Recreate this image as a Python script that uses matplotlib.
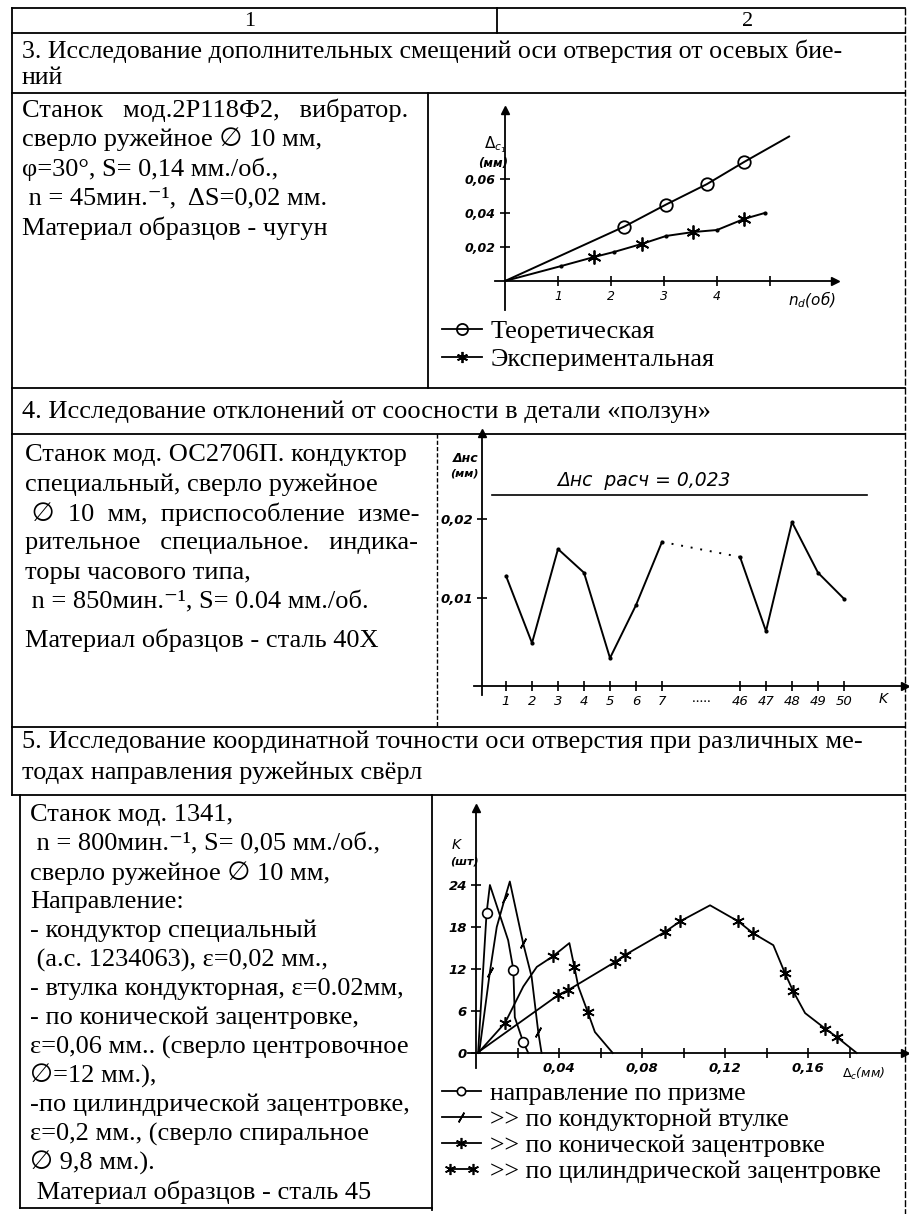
import matplotlib
matplotlib.use('Agg')
import matplotlib.pyplot as plt
from matplotlib.lines import Line2D
from matplotlib.legend_handler import HandlerLine2D

plt.rcParams['font.family'] = ['Liberation Serif', 'DejaVu Sans']
plt.rcParams['mathtext.fontset'] = 'dejavusans'

W, H = 909, 1214
HAND = ['DejaVu Sans']

# ---- chart 3: additional axis shift vs number of revolutions
n_theor = [0, 2.25, 3.04, 3.81, 4.51, 5.36]
dc_theor = [0, 0.032, 0.045, 0.057, 0.070, 0.085]
n_exp = [0, 1.06, 1.68, 2.06, 2.58, 3.04, 3.55, 4.0, 4.51, 4.9]
dc_exp = [0, 0.0088, 0.0141, 0.0171, 0.0218, 0.0265, 0.0288, 0.030, 0.0365, 0.040]

# ---- chart 4: misalignment for parts K
part_labels = ['1', '2', '3', '4', '5', '6', '7', '46', '47', '48', '49', '50']
dnc = [0.0128, 0.0043, 0.0162, 0.0132, 0.0024, 0.0091, 0.0171,
       0.0152, 0.0058, 0.0196, 0.0132, 0.0099]
dnc_calc = 0.023

# ---- chart 5: distribution of coordinate error
prism_x = [0.001, 0.0051, 0.0067, 0.0155, 0.018, 0.0187, 0.0227, 0.0252]
prism_k = [0, 20.0, 24.0, 16.1, 11.9, 5.1, 1.6, 0]
bush_x = [0.0015, 0.0067, 0.010, 0.0139, 0.0163, 0.0227, 0.0268, 0.030, 0.0316]
bush_k = [0, 11.6, 18.0, 22.1, 24.5, 15.7, 10.9, 3.0, 0]
cone_x = [0.001, 0.014, 0.0228, 0.0293, 0.037, 0.045, 0.0474, 0.0493, 0.0538, 0.0573, 0.0659]
cone_k = [0, 4.3, 9.5, 12.3, 13.8, 15.7, 12.3, 9.5, 5.9, 3.0, 0]
cyl_x = [0.0005, 0.0397, 0.0445, 0.067, 0.0718, 0.0911, 0.0983, 0.1128, 0.1264,
         0.1336, 0.1433, 0.1489, 0.1529, 0.1586, 0.1682, 0.1738, 0.1835]
cyl_k = [0, 8.3, 9.0, 13.0, 14.0, 17.3, 18.8, 21.1, 18.8, 17.1, 15.4, 11.4,
         8.8, 5.7, 3.5, 2.3, 0]

# ---- table text
sec3_title = ['3. Исследование дополнительных смещений оси отверстия от осевых бие-', 'ний']
sec3_text = ['Станок   мод.2Р118Ф2,   вибратор.',
             'сверло ружейное ∅ 10 мм,',
             'φ=30°, S= 0,14 мм./об.,',
             ' n = 45мин.⁻¹,  ΔS=0,02 мм.',
             'Материал образцов - чугун']
sec4_title = ['4. Исследование отклонений от соосности в детали «ползун»']
sec4_text = ['Станок мод. ОС2706П. кондуктор',
             'специальный, сверло ружейное',
             ' ∅  10  мм,  приспособление  изме-',
             'рительное   специальное.   индика-',
             'торы часового типа,',
             ' n = 850мин.⁻¹, S= 0.04 мм./об.',
             'Материал образцов - сталь 40Х']
sec5_title = ['5. Исследование координатной точности оси отверстия при различных ме-',
              'тодах направления ружейных свёрл']
sec5_text = ['Станок мод. 1341,',
             ' n = 800мин.⁻¹, S= 0,05 мм./об.,',
             'сверло ружейное ∅ 10 мм,',
             'Направление:',
             '- кондуктор специальный',
             ' (а.с. 1234063), ε=0,02 мм.,',
             '- втулка кондукторная, ε=0.02мм,',
             '- по конической зацентровке,',
             'ε=0,06 мм.. (сверло центровочное',
             '∅=12 мм.),',
             '-по цилиндрической зацентровке,',
             'ε=0,2 мм., (сверло спиральное',
             '∅ 9,8 мм.).',
             ' Материал образцов - сталь 45']

fig = plt.figure(figsize=(W / 100, H / 100), dpi=100)
bg = fig.add_axes([0, 0, 1, 1])
bg.set_xlim(0, W)
bg.set_ylim(H, 0)
bg.axis('off')

FS = 19
def put(x, y, s, size=FS, **kw):
    bg.text(x, y, s, fontsize=size, va='center', ha='left', **kw)

def hline(y, x0, x1, **kw):
    bg.plot([x0, x1], [y, y], color='k', lw=kw.pop('lw', 1.3), **kw)

def vline(x, y0, y1, **kw):
    bg.plot([x, x], [y0, y1], color='k', lw=kw.pop('lw', 1.3), **kw)

# table grid
for y in [8, 33, 93, 388, 434, 727, 795]:
    hline(y, 12, 905)
hline(1208, 20, 432)
vline(12, 8, 795)
vline(20, 795, 1208)
vline(905, 8, 1214, lw=1.0, ls=(0, (5, 1.5)))
vline(497, 8, 33)
vline(428, 93, 388)
vline(437, 434, 727, lw=1.0, ls=(0, (3, 1.5)))
vline(432, 795, 1210)

bg.text(250, 21, '1', fontsize=16, ha='center', va='center')
bg.text(748, 21, '2', fontsize=16, ha='center', va='center')

for i, s in enumerate(sec3_title):
    put(22, 51 + 27 * i, s, size=18.6)
for i, s in enumerate(sec3_text):
    put(22, 110 + 29.5 * i, s)
put(22, 412, sec4_title[0])
for i, s in enumerate(sec4_text):
    put(25, 455 + 29.5 * i + (8 if i == 6 else 0), s)
for i, s in enumerate(sec5_title):
    put(22, 742 + 31 * i, s)
for i, s in enumerate(sec5_text):
    put(30, 815 + 29 * i, s)


def axes_px(x0, x1, y0, y1):
    return fig.add_axes([x0 / W, 1 - y1 / H, (x1 - x0) / W, (y1 - y0) / H])


def arrow_axes(ax, x_at, y_at, size=9.5):
    ax.patch.set_alpha(0)
    for s in ['top', 'right']:
        ax.spines[s].set_visible(False)
    ax.spines['left'].set_position(('data', x_at))
    ax.spines['bottom'].set_position(('data', y_at))
    for s in ['left', 'bottom']:
        ax.spines[s].set_linewidth(1.3)
    ax.plot(1, y_at, '>k', ms=6, transform=ax.get_yaxis_transform(), clip_on=False)
    ax.plot(x_at, 1, '^k', ms=6, transform=ax.get_xaxis_transform(), clip_on=False)
    ax.tick_params(direction='inout', length=7, width=1.2, labelsize=size, pad=3)
    for lab in ax.get_xticklabels() + ax.get_yticklabels():
        lab.set_fontstyle('italic')
        lab.set_family(HAND)


# ---------------- chart 1 ----------------
ax1 = axes_px(495, 835, 110, 310)
ax1.set_xlim((495 - 505) / 53, (835 - 505) / 53)
ax1.set_ylim((281 - 310) / 1700, (281 - 110) / 1700)
ax1.plot(n_theor, dc_theor, color='k', lw=1.4, marker='o', mfc='none', ms=9,
         mew=1.3, markevery=[1, 2, 3, 4])
ax1.plot(n_exp, dc_exp, color='k', lw=1.4, marker=(6, 2, 0), ms=10, mew=1.3,
         markevery=[2, 4, 6, 8])
ax1.plot(n_exp[1::2], dc_exp[1::2], 'k.', ms=4)
ax1.set_xticks([1, 2, 3, 4, 5], ['1', '2', '3', '4', ''])
ax1.set_yticks([0.02, 0.04, 0.06], ['0,02', '0,04', '0,06'])
arrow_axes(ax1, 0, 0, size=9)
for lab in ax1.get_yticklabels():
    lab.set_fontweight('bold')
bg.text(788, 300, r'$n_d$(об)', fontsize=11, style='italic', family=HAND, va='center')
bg.text(484, 145, r'$\Delta_{c_1}$', fontsize=11, family=HAND, va='center', weight='bold')
bg.text(478, 163, '(мм)', fontsize=8.5, style='italic', family=HAND, va='center', weight='bold')
h_th = Line2D([], [], color='k', lw=1.3, marker='o', mfc='none', ms=8, mew=1.3)
h_ex = Line2D([], [], color='k', lw=1.3, marker=(6, 2, 0), ms=8, mew=1.3)
ax1.legend([h_th, h_ex], ['Теоретическая', 'Экспериментальная'], loc='upper left',
           bbox_to_anchor=(442 / W, 1 - 320 / H), bbox_transform=fig.transFigure,
           frameon=False, fontsize=FS, handlelength=1.5, handletextpad=0.35,
           labelspacing=0.15, borderpad=0, borderaxespad=0)

# ---------------- chart 2 ----------------
pos = list(range(1, 8)) + list(range(10, 15))
ax2 = axes_px(474, 905, 433, 695)
ax2.set_xlim(1 + (474 - 506) / 26, 1 + (905 - 506) / 26)
ax2.set_ylim((677 - 695) / 7900, (677 - 433) / 7900)
ax2.plot(pos[:7], dnc[:7], color='k', lw=1.4, marker='.', ms=4)
ax2.plot(pos[6:8], dnc[6:8], color='k', lw=1.4, ls=(0, (1, 4)))
ax2.plot(pos[7:], dnc[7:], color='k', lw=1.4, marker='.', ms=4)
ax2.axhline(dnc_calc, xmin=(492 - 474) / 431, xmax=(867 - 474) / 431, color='k', lw=1.2)
ax2.text(6.3, dnc_calc + 0.0007, 'Δнс  расч = ' + str(dnc_calc).replace('.', ','),
         fontsize=13.5, style='italic', family=HAND, ha='center', va='bottom')
ax2.set_xticks(pos, part_labels)
ax2.set_yticks([0.01, 0.02], ['0,01', '0,02'])
arrow_axes(ax2, 1 + (482 - 506) / 26, (677 - 686) / 7900)
ax2.tick_params(axis='x', labelsize=9.5)
for lab in ax2.get_yticklabels():
    lab.set_fontweight('bold')
ax2.text(8.5, (677 - 699) / 7900, '.....', fontsize=11, ha='center', va='center')
ax2.text(15.5, (677 - 699) / 7900, 'K', fontsize=10, style='italic', family=HAND,
         ha='center', va='center')
bg.text(453, 458, 'Δнс', fontsize=9, style='italic', family=HAND, va='center', weight='bold')
bg.text(450, 474, '(мм)', fontsize=8, style='italic', family=HAND, va='center', weight='bold')

# ---------------- chart 3 ----------------
ax3 = axes_px(468, 905, 808, 1068)
ax3.set_xlim((468 - 476) / 2075, (905 - 476) / 2075)
ax3.set_ylim((1053 - 1068) / 7, (1053 - 808) / 7)
ax3.plot(prism_x, prism_k, color='k', lw=1.3, marker='o', mfc='white', ms=7, mew=1.2,
         markevery=[1, 4, 6])
ax3.plot(bush_x, bush_k, color='k', lw=1.3, marker=(2, 2, -30), ms=8, mew=1.2,
         markevery=[1, 3, 5, 7])
ax3.plot(cone_x, cone_k, color='k', lw=1.3, marker=(6, 2, 0), ms=9, mew=1.2,
         markevery=[1, 4, 6, 8])
ax3.plot(cyl_x, cyl_k, color='k', lw=1.3, marker=(6, 2, 0), ms=9, mew=1.2,
         markevery=[1, 2, 3, 4, 5, 6, 8, 9, 11, 12, 14, 15])
ax3.set_xticks([0.04, 0.08, 0.12, 0.16], ['0,04', '0,08', '0,12', '0,16'])
ax3.set_xticks([0.02, 0.06, 0.10, 0.14, 0.18], minor=True)
ax3.set_yticks([0, 6, 12, 18, 24], ['0', '6', '12', '18', '24'])
arrow_axes(ax3, 0, 0)
ax3.tick_params(which='minor', direction='inout', length=7, width=1.2)
for lab in ax3.get_xticklabels() + ax3.get_yticklabels():
    lab.set_fontweight('bold')
bg.text(842, 1074, r'$\Delta_c$(мм)', fontsize=9, style='italic', family=HAND, va='center')
bg.text(452, 845, 'K', fontsize=10, style='italic', family=HAND, va='center')
bg.text(450, 862, '(шт)', fontsize=8, style='italic', family=HAND, va='center', weight='bold')
h_pr = Line2D([], [], color='k', lw=1.3, marker='o', mfc='white', ms=6, mew=1.2)
h_bu = Line2D([], [], color='k', lw=1.3, marker=(2, 2, -30), ms=8, mew=1.2)
h_co = Line2D([], [], color='k', lw=1.3, marker=(6, 2, 0), ms=8, mew=1.2)
h_cy = Line2D([], [], color='k', lw=1.3, marker=(6, 2, 0), ms=8, mew=1.2)
ax3.legend([h_pr, h_bu, h_co, h_cy],
           ['направление по призме', '>> по кондукторной втулке',
            '>> по конической зацентровке', '>> по цилиндрической зацентровке'],
           loc='upper left', bbox_to_anchor=(442 / W, 1 - 1082 / H),
           bbox_transform=fig.transFigure, frameon=False, fontsize=FS - 0.5,
           handlelength=1.5, handletextpad=0.35, labelspacing=0.12, borderpad=0,
           borderaxespad=0, handler_map={h_cy: HandlerLine2D(numpoints=2)})

fig.savefig('out.png', dpi=100)
